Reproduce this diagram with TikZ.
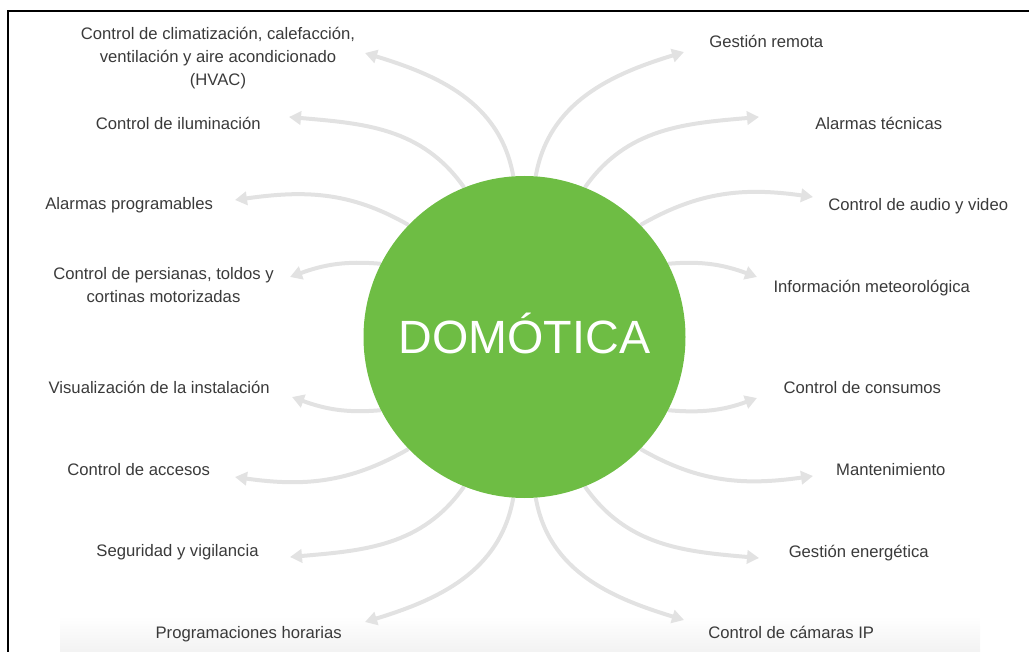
\documentclass[tikz,border=0pt]{standalone}
\usepackage{fontspec}
\setmainfont{Liberation Sans}
\usetikzlibrary{arrows.meta,backgrounds}

\definecolor{domgreen}{RGB}{110,189,68}
\definecolor{linkgray}{RGB}{226,226,226}
\definecolor{featgray}{RGB}{58,58,58}

\tikzset{
  feat/.style={text=featgray, font=\fontsize{12.5}{17.25}\selectfont, align=center, inner sep=0pt},
  featline/.style={feat, text height=8.95pt, text depth=0pt},
  link/.style={draw=linkgray, line width=3pt, -{Triangle[length=9pt,width=10pt]}},
}

\begin{document}
\begin{tikzpicture}[x=0.75pt, y={(0pt,-0.75pt)}]
	\useasboundingbox (0,0) rectangle (1029,652);

	%frame
	\draw[line width=1.2pt] (8,652) -- (8,11) -- (1029,11);

	%center
	\node[circle, fill=domgreen, minimum size=241.5pt, inner sep=0pt, text=white,
	      font=\fontsize{35}{40}\selectfont, text height=25pt, text depth=0pt]
	      (dom) at (524.5,337) {DOMÓTICA};

	%left labels
	\node[feat] (hvac) at (218,58.5) {Control de climatización, calefacción,\\ventilación y aire acondicionado\\(HVAC)};
	\node[featline] (ilum) at (178.3,123.5) {Control de iluminación};
	\node[featline] (alprog) at (129.2,204) {Alarmas programables};
	\node[feat] (persianas) at (163.5,285.3) {Control de persianas, toldos y\\cortinas motorizadas};
	\node[featline] (visual) at (159.2,388) {Visualización de la instalación};
	\node[featline] (accesos) at (138.7,469.5) {Control de accesos};
	\node[featline] (seguridad) at (177.5,551) {Seguridad y vigilancia};
	\node[featline] (horarios) at (248.7,633) {Programaciones horarias};

	%right labels
	\node[featline] (remota) at (766.3,41.5) {Gestión remota};
	\node[featline] (altec) at (878.7,123.5) {Alarmas técnicas};
	\node[featline] (audio) at (918.2,204.5) {Control de audio y video};
	\node[featline] (meteo) at (871.7,286.5) {Información meteorológica};
	\node[featline] (consumos) at (862.3,387.5) {Control de consumos};
	\node[featline] (mant) at (890.8,470) {Mantenimiento};
	\node[featline] (energia) at (858.7,551.5) {Gestión energética};
	\node[featline] (camaras) at (791.2,633) {Control de cámaras IP};

	%arrow tips
	\coordinate (hvac tip) at (365,53);
	\coordinate (ilum tip) at (289,117);
	\coordinate (alprog tip) at (235,200);
	\coordinate (persianas tip) at (290,277);
	\coordinate (visual tip) at (292,397);
	\coordinate (accesos tip) at (235,477);
	\coordinate (seguridad tip) at (290,557);
	\coordinate (horarios tip) at (365,622);
	\coordinate (remota tip) at (684,52);
	\coordinate (altec tip) at (759,117);
	\coordinate (audio tip) at (813,197);
	\coordinate (meteo tip) at (757,277);
	\coordinate (consumos tip) at (757,398);
	\coordinate (mant tip) at (813,476);
	\coordinate (energia tip) at (759,558);
	\coordinate (camaras tip) at (684,620);

	\begin{scope}[on background layer]
		%shadow
		\shade[top color=white, bottom color=black!5] (60,616) rectangle (980,652);

		%arrows
		\draw[link] (dom.94) to[out=100, in=-17] (hvac tip);
		\draw[link] (dom.112) to[out=125, in=-5] (ilum tip);
		\draw[link] (dom.136) to[out=150, in=8] (alprog tip);
		\draw[link] (dom.153) to[out=175, in=20] (persianas tip);
		\draw[link] (dom.207) to[out=185, in=-20] (visual tip);
		\draw[link] (dom.224) to[out=210, in=-8] (accesos tip);
		\draw[link] (dom.248) to[out=235, in=5] (seguridad tip);
		\draw[link] (dom.266) to[out=260, in=17] (horarios tip);

		\draw[link] (dom.86) to[out=80, in=197] (remota tip);
		\draw[link] (dom.68) to[out=55, in=185] (altec tip);
		\draw[link] (dom.44) to[out=30, in=172] (audio tip);
		\draw[link] (dom.27) to[out=5, in=160] (meteo tip);
		\draw[link] (dom.-27) to[out=-5, in=200] (consumos tip);
		\draw[link] (dom.-44) to[out=-30, in=188] (mant tip);
		\draw[link] (dom.-68) to[out=-55, in=175] (energia tip);
		\draw[link] (dom.-86) to[out=-80, in=163] (camaras tip);
	\end{scope}
\end{tikzpicture}
\end{document}
